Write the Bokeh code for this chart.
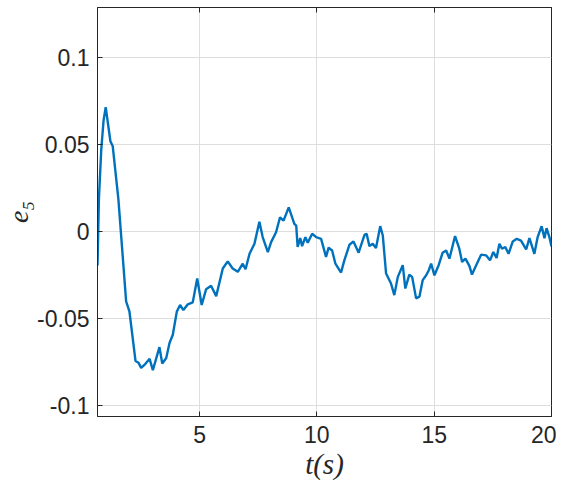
from bokeh.plotting import figure
from bokeh.models import LinearAxis, FixedTicker, Range1d, CustomJSTickFormatter
from bokeh.embed import file_html
from bokeh.resources import INLINE

# data
t = [0.65, 0.71, 0.81, 0.91, 1.00, 1.20, 1.30, 1.54, 1.87, 2.01, 2.27, 2.40, 2.51, 2.65, 2.87,
     3.01, 3.29, 3.41, 3.58, 3.72, 3.86, 4.03, 4.17, 4.31, 4.50, 4.71, 4.90, 5.09, 5.28, 5.49,
     5.71, 5.99, 6.20, 6.41, 6.63, 6.84, 6.96, 7.13, 7.34, 7.55, 7.69, 7.91, 8.05, 8.26, 8.43,
     8.58, 8.80, 9.04, 9.12, 9.18, 9.29, 9.37, 9.51, 9.61, 9.80, 9.97, 10.18, 10.39, 10.50,
     10.65, 10.79, 11.03, 11.17, 11.39, 11.56, 11.78, 12.03, 12.12, 12.24, 12.38, 12.52, 12.70,
     12.81, 12.95, 13.16, 13.30, 13.45, 13.66, 13.77, 13.94, 14.06, 14.23, 14.37, 14.51, 14.66,
     14.77, 14.87, 15.01, 15.19, 15.36, 15.51, 15.65, 15.89, 16.07, 16.19, 16.33, 16.50, 16.61,
     16.79, 17.00, 17.21, 17.38, 17.52, 17.66, 17.78, 17.89, 18.03, 18.17, 18.35, 18.52, 18.70,
     18.92, 19.06, 19.27, 19.41, 19.58, 19.70, 19.79, 19.91, 20.00]
e5 = [-0.0197, 0.0186, 0.047, 0.064, 0.0715, 0.0519, 0.049, 0.0186, -0.0403, -0.046, -0.0746,
      -0.0757, -0.0786, -0.0769, -0.0734, -0.0799, -0.0667, -0.0761, -0.0729, -0.0643, -0.0595,
      -0.0462, -0.0424, -0.0453, -0.042, -0.0409, -0.0271, -0.0424, -0.0333, -0.0313, -0.0373,
      -0.0214, -0.0173, -0.0214, -0.0233, -0.0186, -0.0218, -0.0129, -0.0071, 0.0056, -0.0033,
      -0.0119, -0.0062, -0.0005, 0.0081, 0.0062, 0.0138, 0.0043, 0.0033, -0.009, -0.0039,
      -0.0085, -0.0033, -0.0066, -0.0014, -0.0033, -0.0043, -0.0147, -0.0094, -0.011, -0.0186,
      -0.0237, -0.0167, -0.0077, -0.0058, -0.0123, -0.002, -0.0014, -0.0085, -0.0071, -0.0096,
      0.003, -0.0024, -0.0243, -0.03, -0.0367, -0.0262, -0.0195, -0.0329, -0.0249, -0.0262,
      -0.0386, -0.0376, -0.0281, -0.0253, -0.0224, -0.0186, -0.0253, -0.0195, -0.0123, -0.011,
      -0.0157, -0.0027, -0.01, -0.0176, -0.0157, -0.0199, -0.0249, -0.0195, -0.0134, -0.0138,
      -0.0167, -0.0119, -0.0153, -0.0071, -0.01, -0.009, -0.0129, -0.0058, -0.0043, -0.0053,
      -0.0104, -0.0039, -0.0129, -0.0033, 0.003, -0.0039, 0.0018, -0.0033, -0.0087]

x_ticks = [5, 10, 15, 20]
y_ticks = [-0.1, -0.05, 0, 0.05, 0.1]
y_tick_labels = ["-0.1", "-0.05", "0", "0.05", "0.1"]

AX = "#262626"
GRID = "#dedede"

p = figure(width=556, height=482, output_backend="svg", toolbar_location=None,
           x_range=Range1d(0.65, 20), y_range=Range1d(-0.1066, 0.1289),
           min_border_left=92, min_border_right=5, min_border_top=7, min_border_bottom=63,
           x_axis_label="t(s)", y_axis_label="e₅")
p.background_fill_color = "white"
p.border_fill_color = "white"
p.outline_line_color = AX

p.line(t, e5, line_color="#0072BD", line_width=2.4)

for ax in p.xaxis:
    ax.ticker = FixedTicker(ticks=x_ticks)
for ax in p.yaxis:
    ax.ticker = FixedTicker(ticks=y_ticks)
    ax.major_label_overrides = {v: s for v, s in zip(y_ticks, y_tick_labels)}

for ax in list(p.xaxis) + list(p.yaxis):
    ax.axis_line_color = AX
    ax.major_tick_line_color = AX
    ax.major_tick_in = 5
    ax.major_tick_out = 0
    ax.minor_tick_in = 0
    ax.minor_tick_out = 0
    ax.minor_tick_line_color = None
    ax.major_label_text_font = "Liberation Sans"
    ax.major_label_text_font_size = "23px"
    ax.major_label_text_color = AX
    ax.axis_label_text_font = "Liberation Serif"
    ax.axis_label_text_font_style = "italic"
    ax.axis_label_text_color = AX

p.xaxis.axis_label_text_font_size = "29px"
p.yaxis.axis_label_text_font_size = "28px"
p.xaxis.major_label_standoff = 9
p.xaxis.axis_label_standoff = 2
p.yaxis.major_label_standoff = 8
p.yaxis.axis_label_standoff = 0

# box ticks along the top (no labels)
blank = CustomJSTickFormatter(code="return '';")
top = LinearAxis(ticker=FixedTicker(ticks=x_ticks), formatter=blank,
                 major_label_text_font_size="1px",
                 major_label_standoff=0, major_tick_in=5, major_tick_out=0,
                 minor_tick_in=0, minor_tick_out=0,
                 axis_line_color=AX, major_tick_line_color=AX, minor_tick_line_color=None)
p.add_layout(top, "above")

p.xgrid.ticker = FixedTicker(ticks=x_ticks)
p.ygrid.ticker = FixedTicker(ticks=y_ticks)
p.grid.grid_line_color = GRID
p.grid.grid_line_width = 1

open("out.html", "w").write(file_html(p, INLINE))
